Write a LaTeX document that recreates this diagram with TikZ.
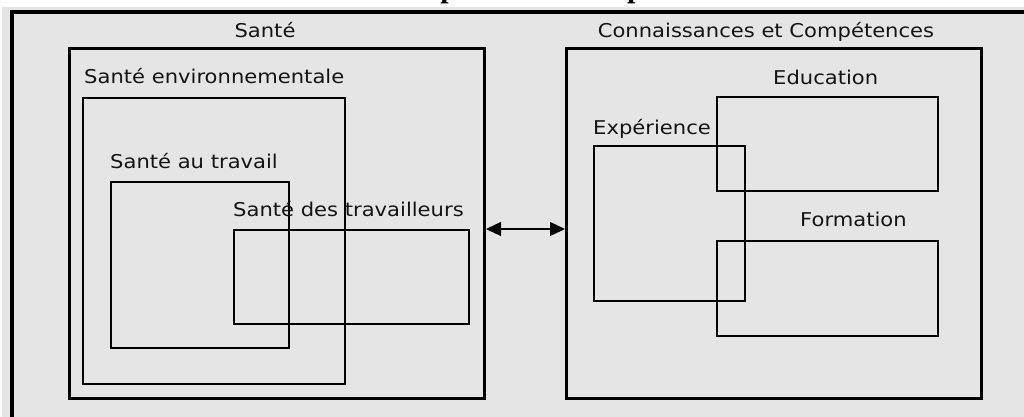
\documentclass[tikz,border=0pt]{standalone}
\usepackage{fontspec}
\setmainfont{DejaVu Sans}[FakeStretch=1.11]
\newfontfamily\titlefont{Liberation Serif}
\usetikzlibrary{arrows.meta}
\definecolor{bg}{RGB}{229,229,229}
\definecolor{ink}{RGB}{20,20,20}
\tikzset{
  x=1pt, y=-1pt,
  lbl/.style={anchor=base west, inner sep=0pt, text=ink, font=\fontsize{19}{22}\selectfont},
  clbl/.style={anchor=base, inner sep=0pt, text=ink, font=\fontsize{19}{22}\selectfont},
  bigbox/.style={draw=black, line width=3pt, anchor=north west, inner sep=0pt},
  smallbox/.style={draw=black, line width=2pt, anchor=north west, inner sep=0pt},
  arr/.style={{Triangle[length=15pt,width=14pt]}-{Triangle[length=15pt,width=14pt]}, line width=1.3pt, draw=black}
}
\begin{document}
\begin{tikzpicture}
\useasboundingbox (0,0) rectangle (1024,416);
\clip (0,0) rectangle (1024,416);
% background and outer frame
\fill[bg] (2,7) rectangle (1030,430);
% title (cut off at the top)
\node[anchor=base, inner sep=0pt, font=\titlefont\bfseries\fontsize{30}{34}\selectfont] (title) at (563,-3) {Les composantes du capital humain};
\draw[line width=4pt, black] (1040,12) -- (12,12) -- (12,440);
% main boxes
\node[bigbox, minimum width=415pt, minimum height=350pt] (sante) at (68,47) {};
\node[bigbox, minimum width=415pt, minimum height=350pt] (conn) at (565,47) {};
\node[clbl] (santel) at (265,37) {Santé};
\node[clbl] (connl) at (766,37) {Connaissances et Compétences};
% Santé side
\node[smallbox, minimum width=262pt, minimum height=286pt] (env) at (82,97) {};
\node[lbl] (envl) at (84,83) {Santé environnementale};
\node[smallbox, minimum width=178pt, minimum height=166pt] (trav) at (110,181) {};
\node[lbl] (travl) at (110,168) {Santé au travail};
\node[smallbox, minimum width=235pt, minimum height=94pt] (trvs) at (233,229) {};
\node[lbl] (trvsl) at (233,216) {Santé des travailleurs};
% Connaissances side
\node[smallbox, minimum width=221pt, minimum height=94pt] (edu) at (716,96) {};
\node[lbl] (edul) at (773,84) {Education};
\node[smallbox, minimum width=151pt, minimum height=155pt] (exp) at (593,145) {};
\node[lbl] (expl) at (593,134) {Expérience};
\node[smallbox, minimum width=221pt, minimum height=95pt] (form) at (716,240) {};
\node[lbl] (forml) at (800,226) {Formation};
% arrow
\coordinate (ay) at (0,229);
\draw[arr] (sante.east |- ay) -- (conn.west |- ay);
\end{tikzpicture}
\end{document}
